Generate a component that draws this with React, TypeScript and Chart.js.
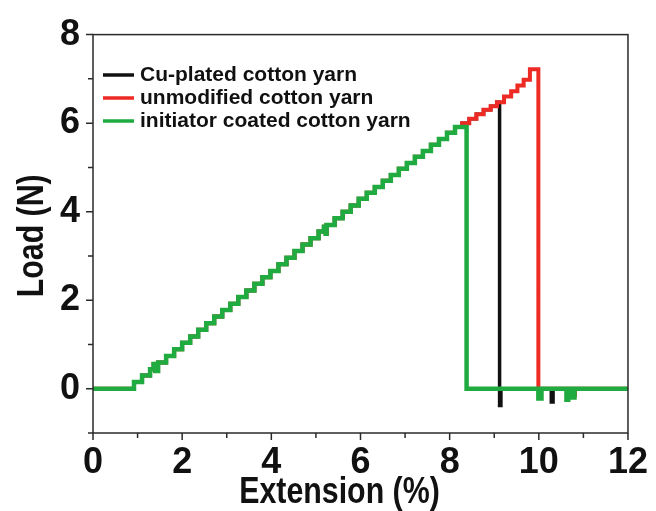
import React, { useEffect, useRef } from "react";
import { Chart, registerables } from "chart.js";

Chart.register(...registerables);

// Shared loading ramp (all three yarns overlap until failure)
const rampX = [0, 0.92, 1.1, 1.28, 1.36, 1.4, 1.46, 1.64, 1.82, 2.0, 2.18, 2.36, 2.54, 2.72, 2.9, 3.08, 3.26, 3.44, 3.62, 3.8, 3.98, 4.16, 4.34, 4.52, 4.7, 4.88, 5.06, 5.18, 5.22, 5.24, 5.42, 5.6, 5.78, 5.96, 6.14, 6.32, 6.5, 6.68, 6.86, 7.04, 7.22, 7.4, 7.58, 7.76, 7.94, 8.12];
const rampY = [0, 0.15, 0.3, 0.44, 0.56, 0.4, 0.59, 0.74, 0.89, 1.04, 1.18, 1.33, 1.48, 1.63, 1.78, 1.92, 2.07, 2.22, 2.37, 2.52, 2.66, 2.81, 2.96, 3.11, 3.26, 3.4, 3.55, 3.66, 3.5, 3.7, 3.85, 4.0, 4.14, 4.29, 4.43, 4.56, 4.7, 4.83, 4.97, 5.1, 5.24, 5.37, 5.51, 5.64, 5.78, 5.91];

// Green: initiator coated cotton yarn (breaks first)
const greenTailX = [8.38, 9.99, 10.06, 10.62, 10.66, 10.76, 10.8, 12];
const greenTailY = [0, -0.22, 0, -0.25, 0, -0.2, 0, 0];

// Red: unmodified cotton yarn
const redTailX = [8.28, 8.44, 8.6, 8.76, 8.92, 9.06, 9.22, 9.38, 9.52, 9.66, 9.8, 9.99, 10.78, 10.81, 12];
const redTailY = [6.0, 6.1, 6.2, 6.3, 6.38, 6.47, 6.6, 6.72, 6.85, 6.98, 7.22, 0, -0.15, 0, 0];

// Black: Cu-plated cotton yarn
const blackTailX = [8.28, 8.44, 8.6, 8.76, 8.92, 9.06, 9.12, 9.15, 10.28, 10.32, 12];
const blackTailY = [6.0, 6.1, 6.2, 6.3, 6.38, 6.47, -0.38, 0, -0.3, 0, 0];

const seriesLabels = ["Cu-plated cotton yarn", "unmodified cotton yarn", "initiator coated cotton yarn"];
const seriesColors = ["#111111", "#ee2a24", "#1fab3f"];

const xTitle = "Extension (%)";
const yTitle = "Load (N)";
const xMin = 0, xMax = 12, yMin = -1, yMax = 8;

const BIG = "'Liberation Sans', Arial, sans-serif";
const LEG = "'Liberation Sans', Arial, sans-serif";

function pts(xs: number[], ys: number[]) {
  return xs.map((x, i) => ({ x, y: ys[i] }));
}

const framePlugin = {
  id: "frameTicks",
  afterDraw(chart: any) {
    const { ctx, chartArea: a, scales } = chart;
    ctx.save();
    ctx.strokeStyle = "#2a2a2a";
    ctx.lineWidth = 1.5;
    ctx.strokeRect(a.left, a.top, a.right - a.left, a.bottom - a.top);
    const xs = scales.x, ys = scales.y;
    ctx.beginPath();
    for (let v = xMin; v <= xMax; v++) {
      const px = xs.getPixelForValue(v);
      const len = v % 2 === 0 ? 7 : 5;
      ctx.moveTo(px, a.bottom);
      ctx.lineTo(px, a.bottom + len);
    }
    for (let v = yMin; v <= yMax; v++) {
      const py = ys.getPixelForValue(v);
      const len = v % 2 === 0 ? 7 : 5;
      ctx.moveTo(a.left, py);
      ctx.lineTo(a.left - len, py);
    }
    ctx.stroke();

    // axis titles (condensed bold, like Arial Narrow)
    ctx.fillStyle = "#111";
    ctx.font = "bold 37px " + BIG;
    ctx.textAlign = "center";
    ctx.textBaseline = "alphabetic";
    ctx.save();
    ctx.translate((a.left + a.right) / 2 - 21, 503);
    ctx.scale(0.82, 1);
    ctx.fillText(xTitle, 0, 0);
    ctx.restore();
    ctx.save();
    ctx.translate(43, (a.top + a.bottom) / 2 + 2);
    ctx.rotate(-Math.PI / 2);
    ctx.scale(0.82, 1);
    ctx.fillText(yTitle, 0, 0);
    ctx.restore();

    // legend inside plot area
    const lx = a.left + 10;
    const rows = [75, 98, 121];
    ctx.font = "bold 21px " + LEG;
    ctx.textBaseline = "middle";
    ctx.textAlign = "left";
    seriesLabels.forEach((lab, i) => {
      ctx.strokeStyle = seriesColors[i];
      ctx.lineWidth = 3.5;
      ctx.beginPath();
      ctx.moveTo(lx, rows[i]);
      ctx.lineTo(lx + 31, rows[i]);
      ctx.stroke();
      ctx.fillStyle = "#111";
      ctx.fillText(lab, lx + 37, rows[i]);
    });
    ctx.restore();
  },
};

export default function App() {
  const ref = useRef<HTMLCanvasElement>(null);
  useEffect(() => {
    if (!ref.current) return;
    const black = pts(rampX.concat(blackTailX), rampY.concat(blackTailY));
    const red = pts(rampX.concat(redTailX), rampY.concat(redTailY));
    const green = pts(rampX.concat(greenTailX), rampY.concat(greenTailY));
    const chart = new Chart(ref.current, {
      type: "line",
      data: {
        datasets: [
          { label: seriesLabels[2], data: green, borderColor: seriesColors[2], borderWidth: 4.5, pointRadius: 0, stepped: "before", order: 0 },
          { label: seriesLabels[1], data: red, borderColor: seriesColors[1], borderWidth: 4, pointRadius: 0, stepped: "before", order: 1 },
          { label: seriesLabels[0], data: black, borderColor: seriesColors[0], borderWidth: 3.5, pointRadius: 0, stepped: "before", order: 2 },
        ],
      },
      options: {
        animation: false,
        responsive: false,
        layout: { padding: { left: 0, top: 28, right: 23, bottom: 0 } },
        plugins: { legend: { display: false }, tooltip: { enabled: false } },
        scales: {
          x: {
            type: "linear",
            min: xMin,
            max: xMax,
            afterFit: (s: any) => { s.height = 78; },
            grid: { display: false, drawTicks: false },
            border: { display: false },
            ticks: {
              stepSize: 1,
              padding: 8,
              color: "#111",
              font: { family: BIG, size: 36, weight: "bold" },
              callback: (v: any) => (Number(v) % 2 === 0 ? String(v) : ""),
              maxRotation: 0,
              autoSkip: false,
            },
            title: { display: false, text: xTitle },
          },
          y: {
            type: "linear",
            min: yMin,
            max: yMax,
            afterFit: (s: any) => { s.width = 93; },
            grid: { display: false, drawTicks: false },
            border: { display: false },
            ticks: {
              stepSize: 1,
              padding: 13,
              color: "#111",
              font: { family: BIG, size: 36, weight: "bold" },
              callback: (v: any) => (Number(v) % 2 === 0 ? String(v) : ""),
              autoSkip: false,
            },
            title: { display: false, text: yTitle },
          },
        },
      },
      plugins: [framePlugin],
    });
    return () => chart.destroy();
  }, []);
  return (
    <div style={{ position: "fixed", left: 0, top: 0, width: 656, height: 511, background: "#fff" }}>
      <canvas ref={ref} width={656} height={511} />
    </div>
  );
}
